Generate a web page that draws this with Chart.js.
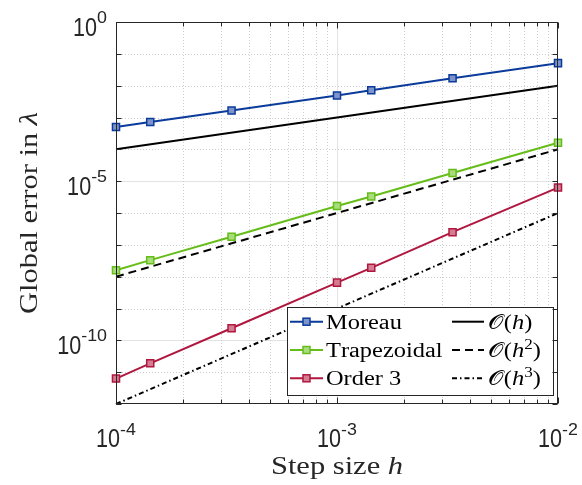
<!DOCTYPE html>
<html>
<head>
<meta charset="utf-8">
<script src="https://cdn.jsdelivr.net/npm/chart.js@4.4.1/dist/chart.umd.min.js"></script>
<style>
  html, body { margin: 0; padding: 0; background: #fff; }
  canvas { display: block; }
</style>
</head>
<body>
<canvas id="chart_canvas" width="582" height="485"></canvas>
<script>
// step sizes h (1/10000 ... 1/100)
const stepSizes = [1e-4, 1.4286e-4, 3.3333e-4, 1e-3, 1.4286e-3, 3.3333e-3, 1e-2];
// global error in lambda
const moreauErr = [5.0e-4, 7.2e-4, 1.66e-3, 4.9e-3, 7.2e-3, 1.7e-2, 5.1e-2];
const trapErr = [1.6e-8, 3.3e-8, 1.8e-7, 1.65e-6, 3.3e-6, 1.8e-5, 1.6e-4];
const order3Err = [6.3e-12, 1.9e-11, 2.4e-10, 6.5e-9, 1.9e-8, 2.5e-7, 6.3e-6];
// reference slopes
const refX = [1e-4, 1e-2];
const refOh = [1e-4, 1e-2];
const refOh2 = [1e-8, 1e-4];
const refOh3 = [1e-12, 1e-6];
const seriesNames = ['Moreau', 'Trapezoidal', 'Order 3'];
const refNames = ['𝒪(h)', '𝒪(h²)', '𝒪(h³)'];
const xTickExps = [-4, -3, -2];
const yTickExps = [0, -5, -10];
const xLabel = [['Step size ', false], ['h', true]];
const yLabel = [['Global error in ', false], ['λ', true]];

const serif = '"Liberation Serif", "DejaVu Serif", serif';
const sans = '"Liberation Sans", Arial, sans-serif';

const pts = (xs, ys) => xs.map((x, i) => ({ x: x, y: ys[i] }));

function series(name, ys, color, fill) {
  return {
    label: name, data: pts(stepSizes, ys), borderColor: color, borderWidth: 2,
    pointStyle: 'rect', pointRadius: 5, pointBorderWidth: 1.5,
    pointBorderColor: color, pointBackgroundColor: fill, clip: false
  };
}
function refLine(name, ys, dash) {
  return {
    label: name, data: pts(refX, ys), borderColor: '#000', borderWidth: 2,
    borderDash: dash, pointRadius: 0, clip: false
  };
}

// draws a run of text pieces, each squeezed/stretched horizontally
function drawRich(ctx, parts, x, y, align, sx) {
  let w = 0;
  parts.forEach(p => {
    ctx.font = p.font;
    p.s = p.sx || sx;
    p.w = ctx.measureText(p.t).width * p.s;
    w += p.w;
  });
  let cx = align === 'center' ? x - w / 2 : (align === 'right' ? x - w : x);
  parts.forEach(p => {
    ctx.save();
    ctx.translate(cx, y + (p.dy || 0));
    ctx.scale(p.s, 1);
    ctx.font = p.font;
    ctx.textAlign = 'left';
    ctx.textBaseline = 'alphabetic';
    ctx.fillText(p.t, 0, 0);
    ctx.restore();
    cx += p.w;
  });
}

function powerParts(e, raise) {
  return [
    { t: '10', font: '26px ' + sans, sx: 0.83 },
    { t: String(e), font: '17px ' + sans, sx: 1.05, dy: -raise }
  ];
}

function labelParts(name, size) {
  const parts = [];
  const math = name.indexOf('(') >= 0;
  for (const ch of name) {
    if (ch === '²' || ch === '³') {
      parts.push({ t: ch === '²' ? '2' : '3', font: Math.round(size * 0.7) + 'px ' + serif, dy: -8 });
    } else if (math && ch === 'h') {
      parts.push({ t: ch, font: 'italic ' + size + 'px ' + serif });
    } else {
      parts.push({ t: ch, font: size + 'px ' + serif });
    }
  }
  return parts;
}

const axesPlugin = {
  id: 'matlabAxes',
  beforeDatasetsDraw(chart) {
    const { ctx, chartArea: a, scales: { x, y } } = chart;
    ctx.save();
    ctx.lineWidth = 1;
    // y grid: one line per decade
    for (let e = Math.round(Math.log10(y.min)) + 1; e < Math.round(Math.log10(y.max)); e++) {
      const py = Math.round(y.getPixelForValue(Math.pow(10, e))) + 0.5;
      const major = yTickExps.indexOf(e) >= 0;
      ctx.strokeStyle = major ? '#e3e3e3' : '#cfcfcf';
      ctx.setLineDash(major ? [] : [1, 2]);
      ctx.beginPath(); ctx.moveTo(a.left, py); ctx.lineTo(a.right, py); ctx.stroke();
    }
    // x grid: 2..9 per decade
    for (let e = Math.round(Math.log10(x.min)); e < Math.round(Math.log10(x.max)); e++) {
      for (let k = 1; k < 10; k++) {
        const v = k * Math.pow(10, e);
        if (v <= x.min) continue;
        const px = Math.round(x.getPixelForValue(v)) + 0.5;
        const major = k === 1;
        ctx.strokeStyle = major ? '#e3e3e3' : '#cfcfcf';
        ctx.setLineDash(major ? [] : [1, 2]);
        ctx.beginPath(); ctx.moveTo(px, a.top); ctx.lineTo(px, a.bottom); ctx.stroke();
      }
    }
    ctx.restore();
  },
  afterDatasetsDraw(chart) {
    const { ctx, chartArea: a, scales: { x, y } } = chart;
    const ds = chart.data.datasets;
    ctx.save();

    // legend, two columns, bottom right inside the axes
    const lx0 = 287, ly0 = 307, lx1 = 553, ly1 = 395;
    ctx.fillStyle = '#fff';
    ctx.fillRect(lx0, ly0, lx1 - lx0, ly1 - ly0);
    ctx.strokeStyle = '#262626';
    ctx.lineWidth = 1;
    ctx.strokeRect(lx0 + 0.5, ly0 + 0.5, lx1 - lx0, ly1 - ly0);
    const rows = [321.7, 350, 378.3];
    const cols = [{ l0: 290, l1: 323, tx: 326 }, { l0: 452, l1: 484, tx: 488 }];
    ds.forEach((d, i) => {
      const c = cols[Math.floor(i / 3)];
      const ry = rows[i % 3];
      ctx.strokeStyle = d.borderColor;
      ctx.lineWidth = d.borderWidth;
      ctx.setLineDash(d.borderDash || []);
      ctx.beginPath(); ctx.moveTo(c.l0, ry); ctx.lineTo(c.l1, ry); ctx.stroke();
      ctx.setLineDash([]);
      if (d.pointRadius > 0) {
        const s = 3.5;
        const mx = (c.l0 + c.l1) / 2;
        ctx.fillStyle = d.pointBackgroundColor;
        ctx.fillRect(mx - s, ry - s, 2 * s, 2 * s);
        ctx.lineWidth = 1.5;
        ctx.strokeRect(mx - s, ry - s, 2 * s, 2 * s);
      }
      ctx.fillStyle = '#000';
      drawRich(ctx, labelParts(d.label, 20), c.tx, ry + 7, 'left', 1.22);
    });

    // box
    ctx.strokeStyle = '#262626';
    ctx.lineWidth = 1;
    const L = Math.round(a.left) + 0.5, R = Math.round(a.right) - 0.5;
    const T = Math.round(a.top) + 0.5, B = Math.round(a.bottom) - 0.5;
    ctx.strokeRect(L, T, R - L, B - T);

    // inward ticks
    ctx.beginPath();
    for (let e = Math.round(Math.log10(y.min)); e <= Math.round(Math.log10(y.max)); e++) {
      const py = Math.round(y.getPixelForValue(Math.pow(10, e))) + 0.5;
      ctx.moveTo(L, py); ctx.lineTo(L + 5, py);
      ctx.moveTo(R, py); ctx.lineTo(R - 5, py);
    }
    for (let e = Math.round(Math.log10(x.min)); e <= Math.round(Math.log10(x.max)); e++) {
      for (let k = 1; k < 10; k++) {
        const v = k * Math.pow(10, e);
        if (v > x.max * 1.0001) break;
        const px = Math.round(x.getPixelForValue(v)) + 0.5;
        const len = k === 1 ? 6 : 4;
        ctx.moveTo(px, B); ctx.lineTo(px, B - len);
        ctx.moveTo(px, T); ctx.lineTo(px, T + len);
      }
    }
    ctx.stroke();

    // tick labels
    ctx.fillStyle = '#262626';
    yTickExps.forEach(e => {
      const py = y.getPixelForValue(Math.pow(10, e));
      drawRich(ctx, powerParts(e, 13), 107, py + 14, 'right', 1);
    });
    xTickExps.forEach(e => {
      const px = x.getPixelForValue(Math.pow(10, e));
      drawRich(ctx, powerParts(e, 12), px, 447, 'center', 1);
    });

    // axis titles
    ctx.fillStyle = '#262626';
    const titleParts = l => l.map(p => ({ t: p[0], font: (p[1] ? 'italic ' : '') + '25px ' + serif }));
    drawRich(ctx, titleParts(xLabel), (a.left + a.right) / 2, 474, 'center', 1.22);
    ctx.save();
    ctx.translate(37, (a.top + a.bottom) / 2);
    ctx.rotate(-Math.PI / 2);
    drawRich(ctx, titleParts(yLabel), 0, 0, 'center', 1.22);
    ctx.restore();

    ctx.restore();
  }
};

const ctx = document.getElementById('chart_canvas');
new Chart(ctx, { // eslint-disable-line no-undef
  type: 'line',
  data: {
    datasets: [
      series(seriesNames[0], moreauErr, '#0b3b9b', '#7d93c9'),
      series(seriesNames[1], trapErr, '#66bd19', '#a9dc7d'),
      series(seriesNames[2], order3Err, '#b0173f', '#d47d92'),
      refLine(refNames[0], refOh, []),
      refLine(refNames[1], refOh2, [8, 5]),
      refLine(refNames[2], refOh3, [5, 3, 1.5, 3])
    ]
  },
  options: {
    responsive: false,
    animation: false,
    events: [],
    layout: { padding: { left: 116, top: 22, right: 24, bottom: 81 } },
    plugins: { legend: { display: false }, tooltip: { enabled: false } },
    scales: {
      x: { type: 'logarithmic', min: 1e-4, max: 1e-2, display: false },
      y: { type: 'logarithmic', min: 1e-12, max: 1, display: false }
    }
  },
  plugins: [axesPlugin]
});
</script>
</body>
</html>
